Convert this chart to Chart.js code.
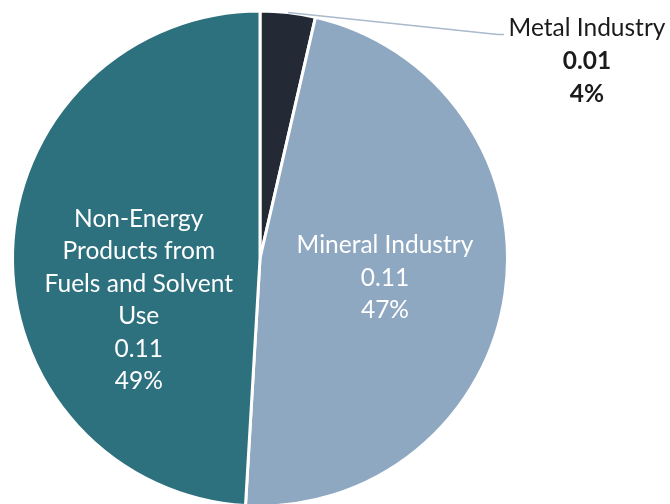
<!DOCTYPE html>
<html>
<head>
<meta charset="utf-8">
<script src="https://cdn.jsdelivr.net/npm/chart.js@4"></script>
<style>
html,body{margin:0;padding:0;background:#fff;overflow:hidden;}
#wrap{width:670px;height:504px;position:relative;overflow:hidden;}
</style>
</head>
<body>
<div id="wrap"><canvas id="c" width="670" height="508"></canvas></div>
<script>
// ---- data ----
const categories = ["Metal Industry", "Mineral Industry", "Non-Energy Products from Fuels and Solvent Use"];
const labelLines = [["Metal Industry"], ["Mineral Industry"], ["Non-Energy", "Products from", "Fuels and Solvent", "Use"]];
const values = [0.0081, 0.1066, 0.1105];
const colors = ["#232a36", "#8fa8c2", "#2d707e"];

const total = values.reduce((a, b) => a + b, 0);

const labelPlugin = {
  id: 'sliceLabels',
  afterDatasetsDraw(chart) {
    const ctx = chart.ctx;
    const meta = chart.getDatasetMeta(0);
    const fam = 'Lato, "Open Sans", sans-serif';
    const lh = 32.5;
    meta.data.forEach((arc, i) => {
      const p = arc.getProps(['x', 'y', 'startAngle', 'endAngle', 'outerRadius'], true);
      const mid = (p.startAngle + p.endAngle) / 2;
      const R = p.outerRadius;
      const v = values[i];
      const pct = Math.round(v / total * 100) + '%';
      const lines = labelLines[i].concat([v.toFixed(2), pct]);
      ctx.save();
      ctx.textAlign = 'center';
      ctx.textBaseline = 'alphabetic';
      if (i === 0) {
        // outside label with leader line
        const sx = p.x + Math.cos(mid) * R;
        const sy = p.y + Math.sin(mid) * R;
        const ex = p.x + 238, ey = p.y - 224;
        ctx.strokeStyle = '#aab9cb';
        ctx.lineWidth = 1.5;
        ctx.beginPath();
        ctx.moveTo(sx, sy);
        ctx.lineTo(ex, ey);
        ctx.lineTo(ex + 6, ey);
        ctx.stroke();
        const cx = p.x + 327;
        let by = p.y - 223;
        ctx.fillStyle = '#1b1b1b';
        lines.forEach((t, k) => {
          ctx.font = (k === 0 ? '400 ' : '700 ') + '24.5px ' + fam;
          ctx.fillText(t, cx, by + k * 33);
        });
      } else {
        const rf = i === 1 ? 0.51 : 0.49;
        const cx = p.x + Math.cos(mid) * R * rf;
        const cy = p.y + Math.sin(mid) * R * rf;
        const dy = i === 1 ? -23 : -28;
        ctx.fillStyle = '#ffffff';
        ctx.font = '400 24.5px ' + fam;
        lines.forEach((t, k) => {
          ctx.fillText(t, cx, cy + dy + k * lh);
        });
      }
      ctx.restore();
    });
  }
};

new Chart(document.getElementById('c'), {
  type: 'pie',
  data: {
    labels: categories,
    datasets: [{
      data: values,
      backgroundColor: colors,
      borderColor: '#ffffff',
      borderWidth: 3
    }]
  },
  options: {
    responsive: false,
    animation: false,
    layout: { padding: { left: 11, top: 9, right: 161, bottom: 0 } },
    plugins: { legend: { display: false }, tooltip: { enabled: false } }
  },
  plugins: [labelPlugin]
});
</script>
</body>
</html>
